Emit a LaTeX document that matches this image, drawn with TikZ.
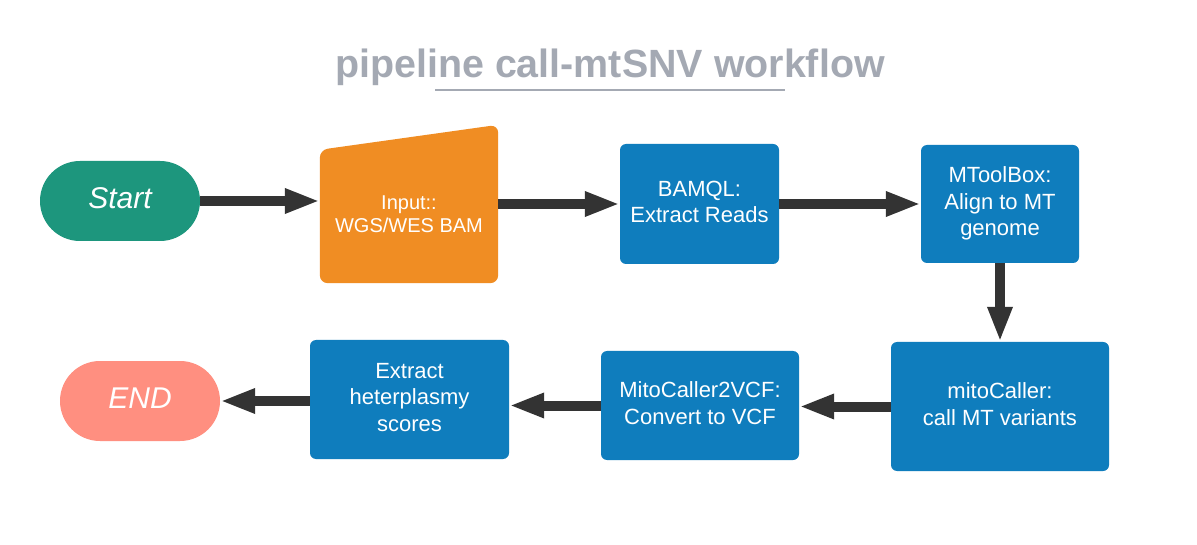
\documentclass[tikz,border=0pt]{standalone}
\usepackage{fontspec}
\setmainfont{Liberation Sans}
\usetikzlibrary{arrows.meta}
\definecolor{startc}{HTML}{1D967D}
\definecolor{endc}{HTML}{FF8F80}
\definecolor{inputc}{HTML}{F08D23}
\definecolor{boxc}{HTML}{0F7DBD}
\definecolor{arrowc}{HTML}{333333}
\definecolor{titlec}{HTML}{A4A9B3}
\newcommand{\tabtxt}[1]{\begin{tabular}{@{}c@{}}#1\end{tabular}}
\tikzset{
  procbox/.style={fill=boxc, draw=none, rounded corners=6pt, text=white, align=center,
    inner sep=0pt, font=\fontsize{22}{26.5}\selectfont},
  terminal/.style={draw=none, rounded corners=40pt, text=white, minimum width=160pt,
    minimum height=80pt, inner sep=0pt, font=\itshape\fontsize{30}{36}\selectfont},
  flow/.style={draw=arrowc, line width=10pt, -{Triangle[length=35pt,width=23pt]}, fill=arrowc},
}
\begin{document}
\begin{tikzpicture}[x=1pt,y=-1pt]
\useasboundingbox (0,0) rectangle (1197,545);
\fill[white] (0,0) rectangle (1197,545);
% title
\node[anchor=base, text=titlec, font=\bfseries\fontsize{39.4}{47}\selectfont, inner sep=0pt] (title) at (610,78) {pipeline call-mtSNV workflow};
\coordinate (ulA) at (435,90);
\coordinate (ulB) at (785,90);
\draw[titlec, line width=2.5pt] (ulA) -- (ulB);
% nodes
\node[terminal, fill=startc] (start) at (120,201) {\tabtxt{Start}};
\node[terminal, fill=endc] (end) at (140,401) {\tabtxt{END}};
\node[minimum width=178pt, minimum height=133pt, inner sep=0pt] (input) at (409,216.5) {};
\fill[inputc, rounded corners=8pt] (input.south west) -- (input.north west) -- ([yshift=25pt]input.north east) -- (input.south east) -- cycle;
\node[text=white, inner sep=0pt, font=\fontsize{20}{23.5}\selectfont] (inputtext) at (input.center) {\tabtxt{Input::\\WGS/WES BAM}};
\node[procbox, minimum width=159pt, minimum height=120pt] (bamql) at (699.5,204) {\tabtxt{BAMQL:\\Extract Reads}};
\node[procbox, minimum width=158pt, minimum height=118pt] (mtool) at (1000,204) {\tabtxt{MToolBox:\\Align to MT\\genome}};
\node[procbox, minimum width=218pt, minimum height=129pt] (mito) at (1000,406.5) {\tabtxt{mitoCaller:\\call MT variants}};
\node[procbox, minimum width=198pt, minimum height=109pt] (m2v) at (700,405.5) {\tabtxt{MitoCaller2VCF:\\Convert to VCF}};
\node[procbox, minimum width=199pt, minimum height=119pt] (het) at (409.5,399.5) {\tabtxt{Extract\\heterplasmy\\scores}};
% connectors
\draw[flow] (start.east) -- (start.east -| input.west);
\draw[flow] (input.east |- bamql.west) -- (bamql.west);
\draw[flow] (bamql.east) -- (mtool.west);
\draw[flow] (mtool.south) -- (mito.north);
\draw[flow] (mito.west) -- (mito.west -| m2v.east);
\draw[flow] (m2v.west) -- (m2v.west -| het.east);
\draw[flow] (het.west |- end.east) -- (end.east);
\end{tikzpicture}
\end{document}
